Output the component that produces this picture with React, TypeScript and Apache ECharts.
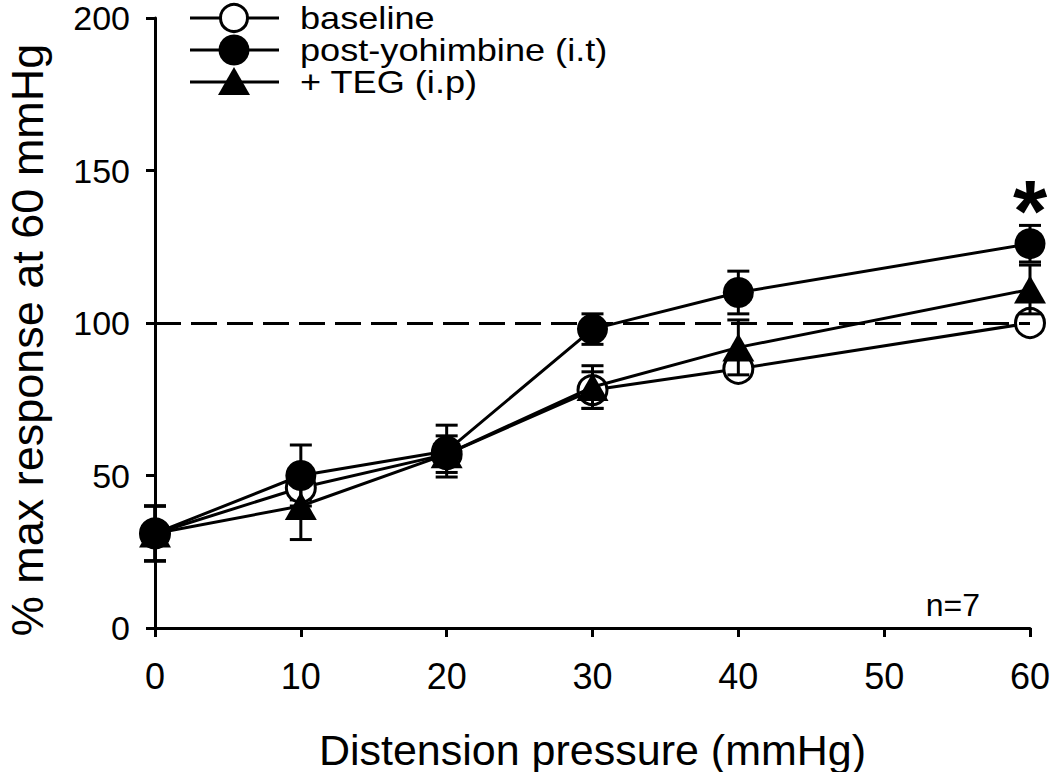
import React, { useEffect, useRef } from "react";
import * as echarts from "echarts";

const xValues = [0, 10, 20, 30, 40, 60];
const baselineMean = [31, 46, 57, 78, 85, 100];
const baselineSem = [9, 4, 4, 6, 3, 0];
const yohimbineMean = [31, 50, 58, 98, 110, 126];
const yohimbineSem = [9, 10, 8.5, 5, 7, 6];
const tegMean = [31, 40, 57, 79, 92, 111];
const tegSem = [9, 11, 6, 7, 9, 8];
const seriesNames = ["baseline", "post-yohimbine (i.t)", "+ TEG (i.p)"];
const xTicks = [0, 10, 20, 30, 40, 50, 60];
const yTicks = [0, 50, 100, 150, 200];
const referenceLevel = 100;
const significantX = 60;
const sampleNote = "n=7";

const FONT = "'Liberation Sans', Arial, Helvetica, sans-serif";

function errorData(mean: number[], sem: number[]) {
  return xValues.map((x, i) => [x, mean[i] - sem[i], mean[i] + sem[i]]);
}

function errorSeries(mean: number[], sem: number[], z: number) {
  return {
    type: "custom",
    z,
    silent: true,
    data: errorData(mean, sem),
    renderItem: (params: any, api: any) => {
      const x = api.value(0);
      const lo = api.coord([x, api.value(1)]);
      const hi = api.coord([x, api.value(2)]);
      const w = 11;
      const style = { stroke: "#000", lineWidth: 3 };
      return {
        type: "group",
        children: [
          { type: "line", shape: { x1: lo[0], y1: lo[1], x2: hi[0], y2: hi[1] }, style },
          { type: "line", shape: { x1: hi[0] - w, y1: hi[1], x2: hi[0] + w, y2: hi[1] }, style },
          { type: "line", shape: { x1: lo[0] - w, y1: lo[1], x2: lo[0] + w, y2: lo[1] }, style },
        ],
      };
    },
  };
}

function legendGraphic() {
  const x0 = 190;
  const x1 = 279;
  const cx = 234;
  const textX = 300;
  const rows = [18, 50, 82];
  const children: any[] = [];
  rows.forEach((y, i) => {
    children.push({ type: "line", shape: { x1: x0, y1: y, x2: x1, y2: y }, style: { stroke: "#000", lineWidth: 3 } });
    if (i === 0) {
      children.push({ type: "circle", shape: { cx, cy: y, r: 13.5 }, style: { fill: "#fff", stroke: "#000", lineWidth: 3 } });
    } else if (i === 1) {
      children.push({ type: "circle", shape: { cx, cy: y, r: 15.5 }, style: { fill: "#000" } });
    } else {
      children.push({
        type: "polygon",
        shape: { points: [[cx, y - 15], [cx + 16, y + 13], [cx - 16, y + 13]] },
        style: { fill: "#000" },
      });
    }
    children.push({
      type: "text",
      x: textX,
      y,
      scaleX: 1.13,
      style: {
        text: seriesNames[i],
        fontSize: 32,
        lineHeight: 30,
        fontFamily: FONT,
        fill: "#000",
        verticalAlign: "middle",
        align: "left",
      },
    });
  });
  return { type: "group", children };
}

export default function App() {
  const ref = useRef<HTMLDivElement>(null);
  useEffect(() => {
    if (!ref.current) return;
    const chart = echarts.init(ref.current, null, { renderer: "svg" });
    const lineStyle = { color: "#000", width: 3 };
    chart.setOption({
      animation: false,
      backgroundColor: "#fff",
      grid: { left: 155, right: 20, top: 18, bottom: 144, outerBoundsMode: "none", containLabel: false },
      xAxis: {
        type: "value",
        min: 0,
        max: 60,
        interval: 10,
        name: "Distension pressure (mmHg)",
        nameLocation: "middle",
        nameGap: 100,
        nameTextStyle: { fontSize: 43, fontFamily: FONT, color: "#000" },
        axisLine: { lineStyle: { color: "#000", width: 3 } },
        axisTick: { show: true, length: 9, lineStyle: { color: "#000", width: 3 } },
        axisLabel: {
          fontSize: 36,
          lineHeight: 32,
          fontFamily: FONT,
          color: "#000",
          margin: 32,
          formatter: (v: number) => (xTicks.includes(v) ? String(v) : ""),
        },
        splitLine: { show: false },
      },
      yAxis: {
        type: "value",
        min: 0,
        max: 200,
        interval: 50,
        name: "% max response at 60 mmHg",
        nameLocation: "middle",
        nameGap: 108,
        nameTextStyle: { fontSize: 45, lineHeight: 40, fontFamily: FONT, color: "#000", padding: [0, 34, 0, 0] },
        axisLine: { show: true, lineStyle: { color: "#000", width: 3 } },
        axisTick: { show: true, length: 9, lineStyle: { color: "#000", width: 3 } },
        axisLabel: {
          fontSize: 34,
          lineHeight: 30,
          fontFamily: FONT,
          color: "#000",
          margin: 25,
          formatter: (v: number) => (yTicks.includes(v) ? String(v) : ""),
        },
        splitLine: { show: false },
      },
      series: [
        errorSeries(baselineMean, baselineSem, 2),
        {
          name: seriesNames[0],
          type: "line",
          z: 3,
          data: xValues.map((x, i) => [x, baselineMean[i]]),
          symbol: "circle",
          symbolSize: 29,
          lineStyle,
          itemStyle: { color: "#fff", borderColor: "#000", borderWidth: 3 },
          markLine: {
            silent: true,
            symbol: "none",
            label: { show: false },
            lineStyle: { color: "#000", width: 3, type: [26, 10] },
            data: [{ yAxis: referenceLevel }],
          },
        },
        errorSeries(tegMean, tegSem, 4),
        {
          name: seriesNames[2],
          type: "line",
          z: 5,
          data: xValues.map((x, i) => [x, tegMean[i]]),
          symbol: "triangle",
          symbolSize: [32, 28],
          lineStyle,
          itemStyle: { color: "#000", borderColor: "#000", borderWidth: 0 },
        },
        errorSeries(yohimbineMean, yohimbineSem, 6),
        {
          name: seriesNames[1],
          type: "line",
          z: 7,
          data: xValues.map((x, i) => [x, yohimbineMean[i]]),
          symbol: "circle",
          symbolSize: 31,
          lineStyle,
          itemStyle: { color: "#000", borderColor: "#000", borderWidth: 0 },
          markPoint: {
            silent: true,
            symbol: "circle",
            symbolSize: 0,
            data: [
              {
                coord: [significantX, yohimbineMean[xValues.indexOf(significantX)] + yohimbineSem[xValues.indexOf(significantX)]],
                label: {
                  show: true,
                  formatter: "*",
                  fontSize: 88,
                  fontWeight: "bold",
                  fontFamily: FONT,
                  color: "#000",
                  offset: [0, -15],
                },
              },
            ],
          },
        },
      ],
      graphic: [
        legendGraphic(),
        {
          type: "text",
          right: 70,
          top: 589,
          style: { text: sampleNote, fontSize: 32, fontFamily: FONT, fill: "#000" },
        },
      ],
    });
    return () => chart.dispose();
  }, []);
  return <div ref={ref} style={{ position: "fixed", left: 0, top: 0, width: 1050, height: 772 }} />;
}
